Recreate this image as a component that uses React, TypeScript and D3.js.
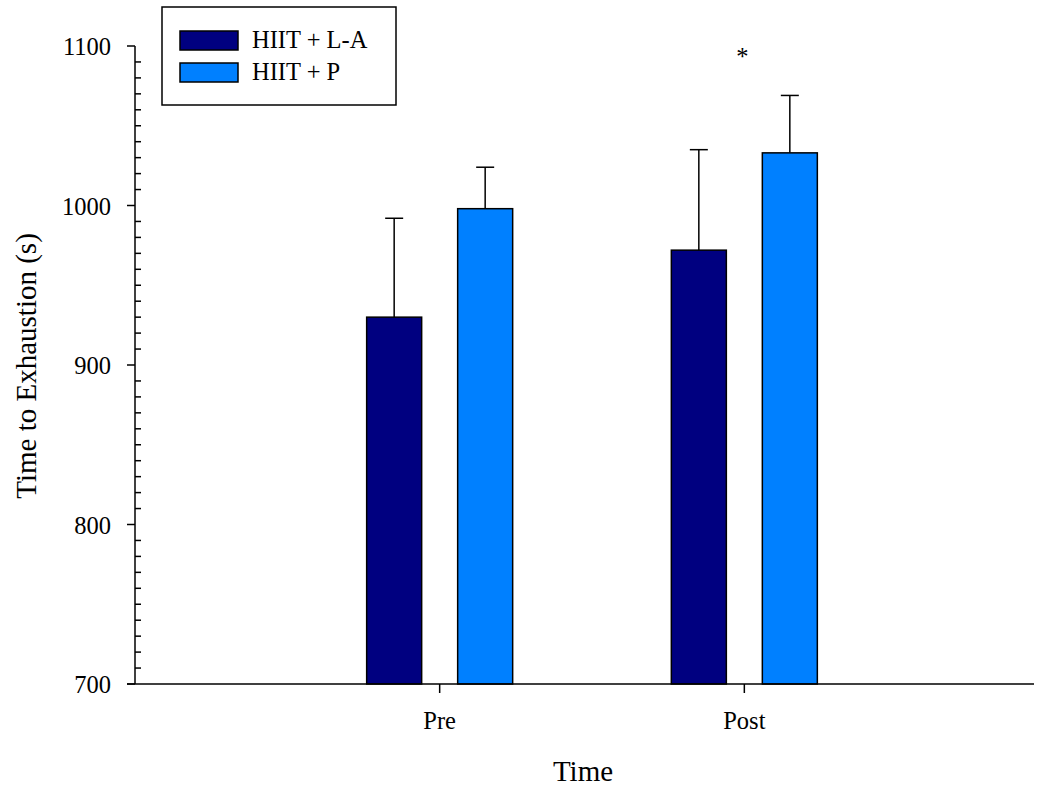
import React from "react";
import * as d3 from "d3";

const categories = ["Pre", "Post"];
const seriesNames = ["HIIT + L-A", "HIIT + P"];
const seriesColors = ["#000080", "#0080FF"];
const meanLA = [930, 972];
const meanP = [998, 1033];
const errLA = [62, 63];
const errP = [26, 36];
const yTicks = [700, 800, 900, 1000, 1100];
const significance = [{ category: "Post", value: 1092, mark: "*" }];

const W = 1037;
const H = 789;
const FONT = "'Liberation Serif', 'Times New Roman', serif";

export default function App() {
  const y = d3.scaleLinear().domain([700, 1100]).range([684, 46]);
  const x = d3.scaleLinear().domain([0, 3]).range([135, 1049]);
  const xPos = (c: string) => x(categories.indexOf(c) + 1);
  const barW = 55;
  const offset = 45.5;
  const minor = d3.range(700, 1101, 10).filter((v) => v % 100 !== 0);

  const series = [
    { name: seriesNames[0], color: seriesColors[0], mean: meanLA, err: errLA, dx: -offset },
    { name: seriesNames[1], color: seriesColors[1], mean: meanP, err: errP, dx: offset },
  ];

  return (
    <svg
      width={W}
      height={H}
      style={{ position: "absolute", left: 0, top: 0, background: "#fff" }}
      fontFamily={FONT}
    >
      {/* bars + error bars */}
      {series.map((s, si) =>
        categories.map((c, ci) => {
          const cx = xPos(c) + s.dx;
          const top = y(s.mean[ci]);
          const eTop = y(s.mean[ci] + s.err[ci]);
          return (
            <g key={`${si}-${ci}`}>
              <line x1={cx} x2={cx} y1={top} y2={eTop} stroke="#000" strokeWidth={1.5} />
              <line x1={cx - 9} x2={cx + 9} y1={eTop} y2={eTop} stroke="#000" strokeWidth={1.5} />
              <rect
                x={cx - barW / 2}
                y={top}
                width={barW}
                height={y(700) - top}
                fill={s.color}
                stroke="#000"
                strokeWidth={1.5}
              />
            </g>
          );
        })
      )}

      {/* y axis */}
      <line x1={135} x2={135} y1={y(1100)} y2={y(700)} stroke="#000" strokeWidth={1.5} />
      {yTicks.map((t) => (
        <g key={t}>
          <line x1={127} x2={135} y1={y(t)} y2={y(t)} stroke="#000" strokeWidth={1.5} />
          <text x={111} y={y(t) + 9} textAnchor="end" fontSize={24.5}>
            {t}
          </text>
        </g>
      ))}
      {minor.map((t) => (
        <line key={t} x1={135} x2={141} y1={y(t)} y2={y(t)} stroke="#000" strokeWidth={1.5} />
      ))}

      {/* x axis */}
      <line x1={127} x2={1034} y1={y(700)} y2={y(700)} stroke="#000" strokeWidth={1.5} />
      {categories.map((c) => (
        <g key={c}>
          <line x1={xPos(c)} x2={xPos(c)} y1={y(700)} y2={y(700) + 9} stroke="#000" strokeWidth={1.5} />
          <text x={xPos(c)} y={729} textAnchor="middle" fontSize={24.5}>
            {c}
          </text>
        </g>
      ))}

      {/* significance */}
      {significance.map((s, i) => (
        <text key={i} x={xPos(s.category) - 2} y={y(s.value) + 6} textAnchor="middle" fontSize={24.5}>
          {s.mark}
        </text>
      ))}

      {/* titles */}
      <text x={583} y={781} textAnchor="middle" fontSize={29}>
        Time
      </text>
      <text transform="translate(36,366) rotate(-90)" textAnchor="middle" fontSize={29}>
        Time to Exhaustion (s)
      </text>

      {/* legend */}
      <rect x={162} y={7} width={234} height={98} fill="#fff" stroke="#000" strokeWidth={1.5} />
      {series.map((s, i) => (
        <g key={s.name}>
          <rect x={180} y={31 + i * 32} width={58} height={19} fill={s.color} stroke="#000" strokeWidth={1.5} />
          <text x={252} y={48 + i * 32} fontSize={24.5}>
            {s.name}
          </text>
        </g>
      ))}
    </svg>
  );
}
